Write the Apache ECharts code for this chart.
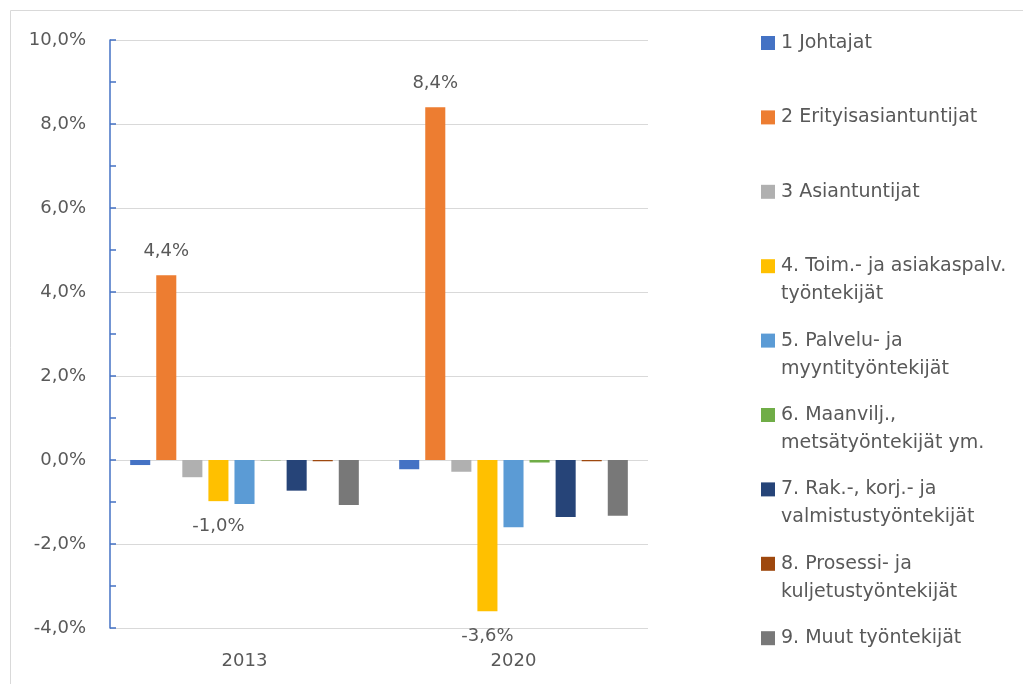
<!DOCTYPE html>
<html>
<head>
<meta charset="utf-8">
<script src="https://cdn.jsdelivr.net/npm/echarts@6/dist/echarts.min.js"></script>
<style>
html,body{margin:0;padding:0;background:#fff;}
#chart{width:1023px;height:684px;}
</style>
</head>
<body>
<div id="chart"></div>
<script>
const categories = ['2013', '2020'];
const seriesNames = [
  '1 Johtajat',
  '2 Erityisasiantuntijat',
  '3 Asiantuntijat',
  '4. Toim.- ja asiakaspalv. työntekijät',
  '5. Palvelu- ja myyntityöntekijät',
  '6. Maanvilj., metsätyöntekijät ym.',
  '7. Rak.-, korj.- ja valmistustyöntekijät',
  '8. Prosessi- ja kuljetustyöntekijät',
  '9. Muut työntekijät'
];
const legendLines = [
  ['1 Johtajat', ' '],
  ['2 Erityisasiantuntijat', ' '],
  ['3 Asiantuntijat', ' '],
  ['4. Toim.- ja asiakaspalv.', 'työntekijät'],
  ['5. Palvelu- ja', 'myyntityöntekijät'],
  ['6. Maanvilj.,', 'metsätyöntekijät ym.'],
  ['7. Rak.-, korj.- ja', 'valmistustyöntekijät'],
  ['8. Prosessi- ja', 'kuljetustyöntekijät'],
  ['9. Muut työntekijät', ' ']
];
const s1 = [-0.12, -0.22];
const s2 = [4.4, 8.4];
const s3 = [-0.41, -0.28];
const s4 = [-0.98, -3.6];
const s5 = [-1.05, -1.6];
const s6 = [-0.01, -0.06];
const s7 = [-0.73, -1.36];
const s8 = [-0.03, -0.03];
const s9 = [-1.07, -1.33];
const seriesValues = [s1, s2, s3, s4, s5, s6, s7, s8, s9];
const labelledSeries = {1: 'top', 3: 'bottom'};
const colors = ['#4472C4', '#ED7D31', '#B0B0B0', '#FFC000', '#5B9BD5', '#70AD47', '#264478', '#9E480E', '#787878'];

const fmt = v => v.toFixed(1).replace('.', ',') + '%';
const FONT = '"DejaVu Sans", sans-serif';
const TXT = '#595959';

const chart = echarts.init(document.getElementById('chart'), null, {renderer: 'canvas'});
const series = seriesNames.map((name, i) => ({
  name: name,
  type: 'bar',
  data: seriesValues[i],
  barGap: '30%',
  barCategoryGap: '15%',
  itemStyle: {color: colors[i]},
  label: labelledSeries[i] ? {
    show: true,
    position: labelledSeries[i],
    distance: labelledSeries[i] === 'top' ? 15 : 16,
    formatter: p => fmt(p.value),
    color: TXT,
    fontSize: 18,
    fontFamily: FONT
  } : {show: false}
}));

chart.setOption({
  animation: false,
  color: colors,
  graphic: [{
    type: 'polyline',
    shape: {points: [[10.5, 700], [10.5, 10.5], [1040, 10.5]]},
    style: {fill: 'none', stroke: '#D9D9D9', lineWidth: 1},
    silent: true, z: -10
  }],
  grid: {left: 110, right: 375, top: 40, bottom: 56, containLabel: false},
  legend: {
    orient: 'vertical',
    left: 761,
    top: 1,
    bottom: 0,
    padding: 0,
    itemGap: -9.6,
    itemWidth: 14,
    itemHeight: 14,
    icon: 'rect',
    data: seriesNames,
    formatter: name => {
      const l = legendLines[seriesNames.indexOf(name)];
      return '\n' + l[0] + '\n' + l[1];
    },
    textStyle: {color: TXT, fontSize: 19, fontFamily: FONT, lineHeight: 28, padding: [0, 0, 0, 1]},
    itemStyle: {borderWidth: 0}
  },
  xAxis: {
    type: 'category',
    data: categories,
    axisLine: {show: false, onZero: false},
    axisTick: {show: false},
    axisLabel: {color: TXT, fontSize: 18, fontFamily: FONT, margin: 24},
    splitLine: {show: false}
  },
  yAxis: {
    type: 'value',
    min: -4, max: 10, interval: 2,
    axisLine: {show: true, lineStyle: {color: '#4472C4', width: 1.5}},
    axisTick: {show: true, inside: true, length: 6, lineStyle: {color: '#4472C4', width: 1.5}},
    minorTick: {show: true, splitNumber: 2, length: 6, lineStyle: {color: '#4472C4', width: 1.5}},
    splitLine: {show: true, lineStyle: {color: '#D9D9D9', width: 1}},
    axisLabel: {color: TXT, fontSize: 18, fontFamily: FONT, margin: 24, formatter: v => fmt(v)}
  },
  series: series
});
</script>
</body>
</html>
